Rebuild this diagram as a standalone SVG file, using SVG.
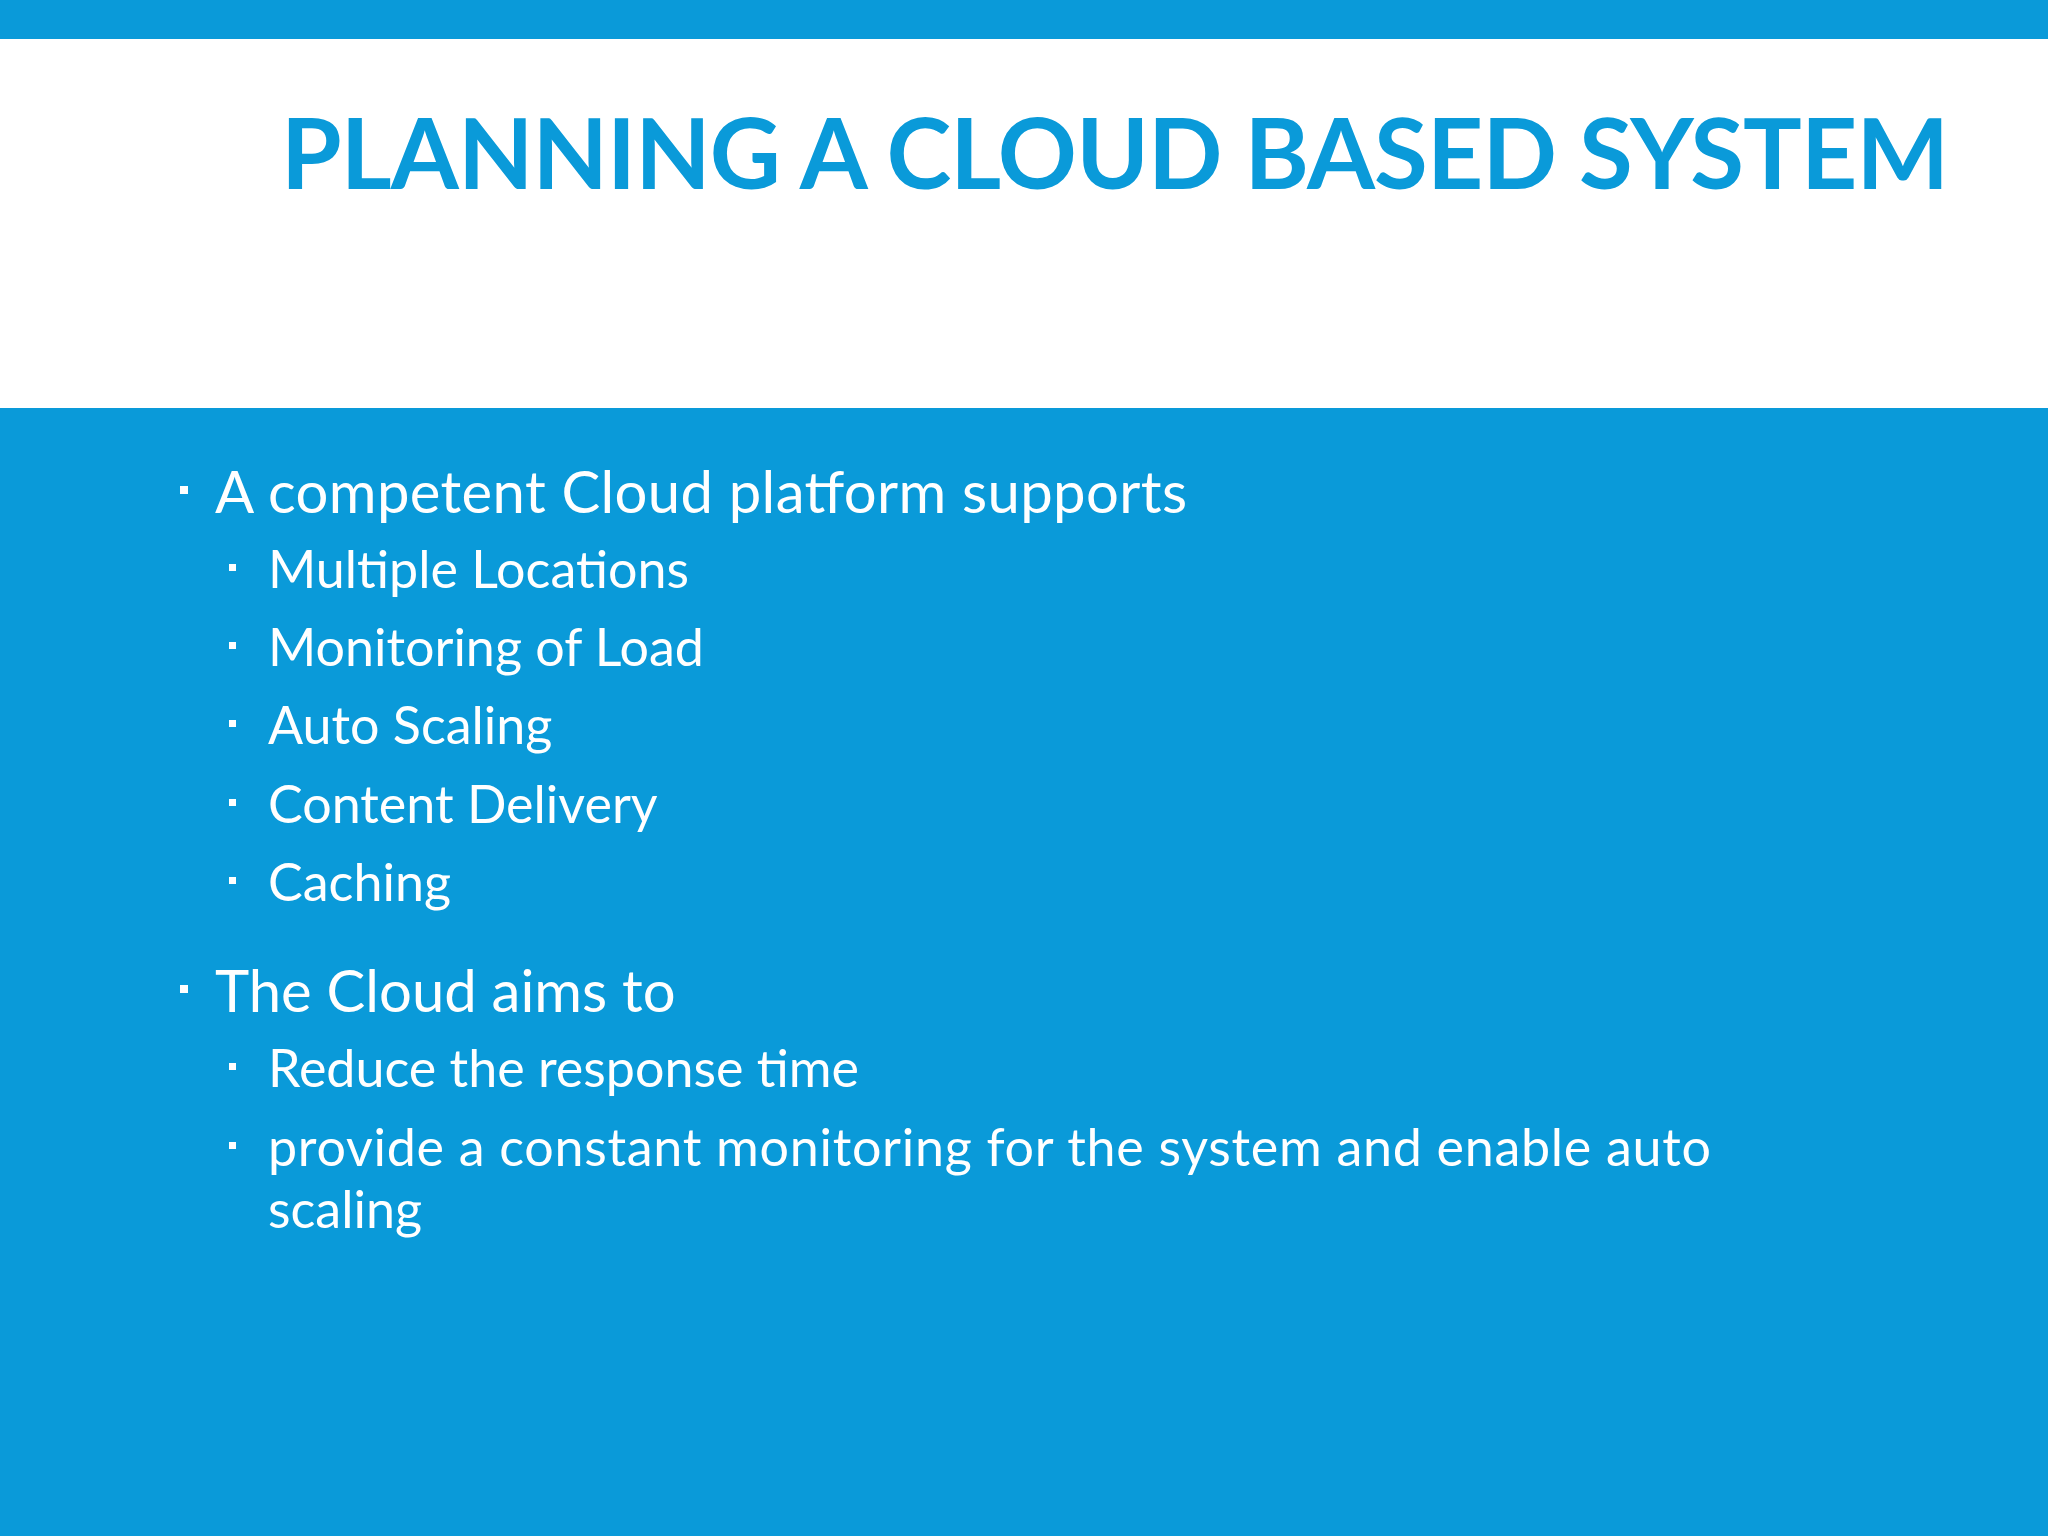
<svg xmlns="http://www.w3.org/2000/svg" width="2048" height="1536" viewBox="0 0 2048 1536">
<style>
.t{font-family:Lato,"Open Sans",sans-serif;fill:#fff}
.m{font-size:58px}
.s{font-size:52px}
.b{fill:#fff}
</style>
<rect x="0" y="0" width="2048" height="1536" fill="#ffffff"/>
<rect x="0" y="0" width="2048" height="39" fill="#0a9ad9"/>
<rect x="0" y="408" width="2048" height="1128" fill="#0a9ad9"/>
<text x="1949" y="189" text-anchor="end" font-family="Lato,'Open Sans',sans-serif" font-weight="bold" font-size="98" fill="#0a9ad9" textLength="1668">PLANNING A CLOUD BASED SYSTEM</text>
<g id="list">
<rect class="b" x="180" y="486" width="8" height="8"/>
<text class="t m" x="215" y="513" textLength="972">A competent Cloud platform supports</text>
<rect class="b" x="229" y="564" width="7" height="7"/>
<text class="t s" x="268" y="588">Multiple Locations</text>
<rect class="b" x="229" y="642" width="7" height="7"/>
<text class="t s" x="268" y="666">Monitoring of Load</text>
<rect class="b" x="229" y="720" width="7" height="7"/>
<text class="t s" x="268" y="744">Auto Scaling</text>
<rect class="b" x="229" y="799" width="7" height="7"/>
<text class="t s" x="268" y="823">Content Delivery</text>
<rect class="b" x="229" y="877" width="7" height="7"/>
<text class="t s" x="268" y="901">Caching</text>
<rect class="b" x="180" y="985" width="8" height="8"/>
<text class="t m" x="215" y="1012">The Cloud aims to</text>
<rect class="b" x="229" y="1063" width="7" height="7"/>
<text class="t s" x="268" y="1087">Reduce the response time</text>
<rect class="b" x="229" y="1142" width="7" height="7"/>
<text class="t s" x="268" y="1166" textLength="1443">provide a constant monitoring for the system and enable auto</text>
<text class="t s" x="268" y="1228">scaling</text>
</g>
</svg>
